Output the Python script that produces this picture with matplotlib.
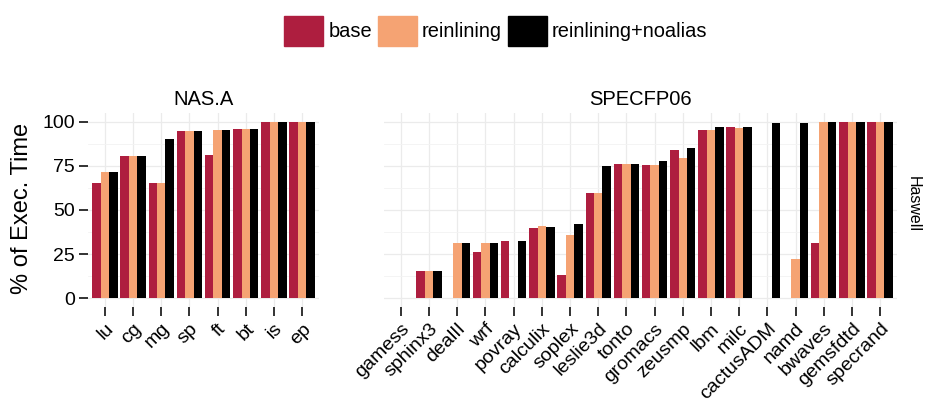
import numpy as np
import matplotlib
matplotlib.use('Agg')
import matplotlib.pyplot as plt
import matplotlib.patches as mpatches
import matplotlib.transforms as mtransforms
from matplotlib.ticker import MultipleLocator

plt.rcParams['font.family'] = ['Liberation Sans', 'DejaVu Sans']

series_names = ['base', 'reinlining', 'reinlining+noalias']
colors = ['#AE1E3F', '#F5A373', '#000000']

nas_names = ['lu', 'cg', 'mg', 'sp', 'ft', 'bt', 'is', 'ep']
nas_base = [65.2, 80.5, 65.2, 94.9, 81.3, 96.0, 100, 100]
nas_reinl = [71.6, 80.5, 65.2, 94.9, 95.5, 96.0, 100, 100]
nas_noalias = [71.6, 80.5, 90.4, 94.9, 95.5, 96.0, 100, 100]

spec_names = ['gamess', 'sphinx3', 'dealII', 'wrf', 'povray', 'calculix', 'soplex',
              'leslie3d', 'tonto', 'gromacs', 'zeusmp', 'lbm', 'milc', 'cactusADM',
              'namd', 'bwaves', 'gemsfdtd', 'specrand']
spec_base = [0, 15.3, 0, 26.0, 32.2, 39.7, 13.0, 59.9, 76.3, 75.7, 84.2, 95.5, 97.2,
             0, 0, 31.1, 100, 100]
spec_reinl = [0, 15.3, 31.1, 31.1, 0, 40.7, 35.6, 59.9, 76.3, 75.7, 79.3, 95.5, 96.6,
              0, 22.0, 100, 100, 100]
spec_noalias = [0, 15.3, 31.1, 31.1, 32.2, 40.1, 41.8, 75.1, 76.3, 78.0, 85.3, 97.2, 97.2,
                99.4, 99.4, 100, 100, 100]

W, H = 926, 407
fig = plt.figure(figsize=(W / 100, H / 100), dpi=100)

ax1 = fig.add_axes([88 / W, 1 - 307 / H, 231 / W, 194 / H])
ax2 = fig.add_axes([384 / W, 1 - 307 / H, 513 / W, 194 / H])

# shift rotated labels a little, like ggplot's hjust=1 placement
lab_off = mtransforms.ScaledTranslation(5 / 100, -3 / 100, fig.dpi_scale_trans)


def draw(ax, names, groups, title):
    x = np.arange(len(names))
    bw = 0.3
    for i, (vals, c) in enumerate(zip(groups, colors)):
        ax.bar(x + (i - 1) * bw, vals, width=bw, color=c, linewidth=0, zorder=3)
    ax.set_xlim(-0.6, len(names) - 0.4)
    ax.set_ylim(-5, 105)
    ax.set_xticks(x)
    ax.set_xticklabels(names, rotation=45, ha='right', rotation_mode='anchor', fontsize=14)
    for lab in ax.get_xticklabels():
        lab.set_transform(lab.get_transform() + lab_off)
    ax.yaxis.set_major_locator(MultipleLocator(25))
    ax.yaxis.set_minor_locator(MultipleLocator(12.5))
    ax.grid(which='major', color='#EBEBEB', linewidth=0.9, zorder=0)
    ax.grid(which='minor', axis='y', color='#F3F3F3', linewidth=0.6, zorder=0)
    for s in ax.spines.values():
        s.set_visible(False)
    ax.tick_params(axis='both', which='major', length=6.5, width=1.3, color='#222222',
                   labelsize=14, pad=3)
    ax.tick_params(which='minor', length=0)
    ax.set_title(title, fontsize=14.5, pad=6)


draw(ax1, nas_names, [nas_base, nas_reinl, nas_noalias], 'NAS.A')
draw(ax2, spec_names, [spec_base, spec_reinl, spec_noalias], 'SPECFP06')
ax2.tick_params(axis='y', left=False, labelleft=False)

fig.text(22 / W, 1 - 208 / H, '% of Exec. Time', rotation=90, ha='center', va='center',
         fontsize=17)
fig.text(913 / W, 1 - 204 / H, 'Haswell', rotation=-90, ha='center', va='center',
         fontsize=11.5)

handles = [mpatches.Patch(color=c, label=n) for c, n in zip(colors, series_names)]
fig.legend(handles=handles, loc='center', bbox_to_anchor=(496 / W, 1 - 31 / H), ncol=3,
           frameon=False, fontsize=14.4, handlelength=1.95, handleheight=1.95,
           handletextpad=0.25, columnspacing=0.3, borderpad=0)

fig.savefig('out.png', dpi=100)
